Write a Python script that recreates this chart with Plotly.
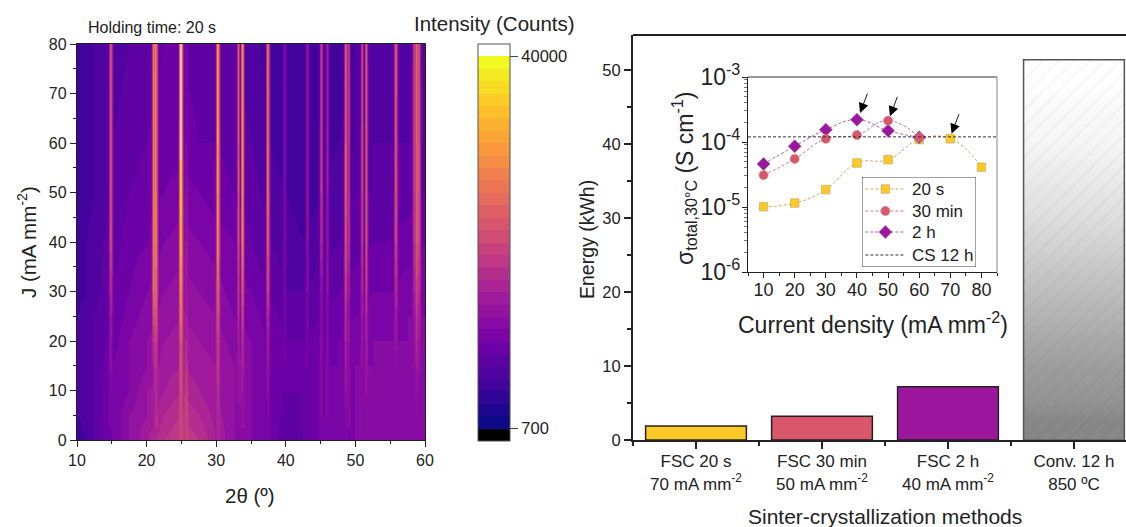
import plotly.graph_objects as go
from plotly.colors import sample_colorscale

W, H = 1126, 527
FONT = "Liberation Sans"
INK = "#222222"

# ---------- heatmap data, in colour-band units (0 = 700 counts, 30 = 40000 counts)
bg_two_theta = [10, 12.5, 15, 17.5, 20, 22.5, 25, 27.5, 30, 32.5, 35, 37.5, 40, 42.5, 45, 47.5, 50, 52.5, 55, 57.5, 60]
j_rows = [0, 5, 10, 15, 20, 25, 30, 40, 50, 60, 80]
bg_levels = [
    [3, 5, 7, 9, 11, 13, 14, 13, 11, 9, 8, 7, 5, 6, 7, 7, 8, 8, 8, 8, 8],
    [4, 5, 7, 9, 10, 12, 13, 12, 10.5, 9, 8, 7, 5.5, 6, 7, 7, 8, 8, 8, 8, 8],
    [4, 5, 7, 8, 10, 11, 12, 11, 10, 9, 8, 7, 6, 6, 7, 7, 8, 8, 8, 8, 8],
    [4, 5, 7, 8, 9, 10.5, 11, 10.5, 10, 9, 8, 7, 6, 6, 7, 7, 8, 8, 8, 8, 8],
    [4, 5, 6.5, 8, 9, 10, 10.5, 10, 9.5, 8.5, 8, 7, 6, 6, 6.5, 7, 7.5, 8, 8, 8, 8],
    [4, 5, 6, 7.5, 8.5, 9.5, 10, 9.5, 9, 8, 7.5, 6.5, 5.5, 5.5, 6, 6.5, 7, 7.5, 7.5, 8, 8],
    [3.5, 4.5, 6, 7, 8, 9, 9.5, 9, 8.5, 7.5, 7, 6, 5, 5, 5.5, 6, 6.5, 7, 7, 7.5, 7.5],
    [3.5, 4.5, 5.5, 6.5, 7, 8, 8.5, 8, 7.5, 7, 6, 5, 4.5, 4, 4.5, 5, 5.5, 6, 6, 6.5, 7],
    [3, 4, 5, 6, 6.5, 7, 7.5, 7, 6.5, 6, 5.5, 4.5, 4, 3.5, 4, 4.5, 5, 5, 5.5, 5.5, 6],
    [3, 4, 5, 5.5, 6, 6.5, 6.5, 6, 6, 5.5, 5, 4, 3.5, 3.5, 3.5, 4, 4.5, 5, 5, 5, 5.5],
    [3, 4, 4.5, 5, 5.5, 6, 6, 5.5, 5, 5, 4.5, 3.5, 3.5, 3, 3, 3.5, 4, 4.5, 4.5, 4.5, 5],
]
peak_two_theta = [14.85, 20.97, 21.3, 24.9, 25.65, 30.2, 33.2, 33.7, 37.4, 39.8, 43.05,
                  45.05, 45.9, 48.55, 49.0, 50.95, 51.5, 55.8, 58.4, 58.75, 59.1]
peak_levels = [
    [7, 7, 8, 9, 10, 11, 13, 17, 18, 18, 18],
    [0, 10, 11, 12, 14, 17, 20, 22, 22, 22, 22],
    [11, 12, 12, 13, 15, 18, 20, 22, 22, 22, 22],
    [15, 15, 16, 17, 18, 21, 23, 27, 29, 30.5, 30.5],
    [14, 15, 14, 13, 12, 11, 10, 10, 9, 8, 7],
    [11, 12, 13, 14, 15, 17, 19, 23, 24, 25, 25],
    [8, 9, 9, 10, 11, 13, 14, 17, 18, 19, 19],
    [8, 9, 10, 11, 12, 14, 16, 20, 21, 21, 21],
    [7, 8, 9, 10, 11, 13, 16, 19, 21, 21, 21],
    [5, 6, 6, 7, 7, 8, 8, 8, 9, 9, 9],
    [6, 6, 6, 7, 7, 7, 8, 9, 9, 9, 10],
    [7, 8, 8, 8, 8, 8, 9, 12, 13, 13, 13],
    [7, 8, 8, 8, 8, 8, 9, 9, 10, 10, 10],
    [8, 8, 10, 11, 12, 13, 15, 18, 19, 19, 19],
    [8, 8, 9, 9, 10, 10, 11, 14, 14, 15, 15],
    [8, 8, 8, 9, 9, 10, 11, 13, 14, 14, 14],
    [8, 8, 10, 11, 12, 13, 15, 18, 19, 19, 19],
    [8, 8, 8, 9, 10, 11, 13, 16, 18, 18, 19],
    [8, 8, 8, 9, 9, 10, 11, 13, 14, 14, 14],
    [8, 9, 10, 11, 13, 14, 16, 19, 19, 20, 20],
    [8, 8, 9, 10, 11, 12, 14, 17, 18, 18, 18],
]
bar_tick_labels = ["FSC 20 s<br>70 mA mm<sup>-2</sup>", "FSC 30 min<br>50 mA mm<sup>-2</sup>",
                   "FSC 2 h<br>40 mA mm<sup>-2</sup>", "Conv. 12 h<br>850 ºC"]
bar_energy = [1.9, 3.2, 7.2, 51.4]
bar_colors = ["#fdc926", "#d8576b", "#9c179e", "rgba(0,0,0,0)"]
grad_edges = [0, 5, 15, 25, 35, 45, 51.4]
grad_gray = [135, 158, 190, 222, 245, 255]

j_inset = [10, 20, 30, 40, 50, 60, 70, 80]
sigma_20s = [1.01e-5, 1.15e-5, 1.85e-5, 4.75e-5, 5.35e-5, 1.09e-4, 1.12e-4, 4.1e-5]
j_30min = [10, 20, 30, 40, 50, 60]
sigma_30min = [3.1e-5, 5.5e-5, 1.12e-4, 1.28e-4, 2.13e-4, 1.18e-4]
j_2h = [10, 20, 30, 40, 50, 60]
sigma_2h = [4.6e-5, 8.6e-5, 1.55e-4, 2.2e-4, 1.49e-4, 1.18e-4]
sigma_cs = [1.2e-4, 1.2e-4]
cs_range = [5, 85]
arrow_j = [41, 50.6, 70.4]
arrow_log_sigma = [-3.554, -3.605, -3.872]
legend_names = ["20 s", "30 min", "2 h", "CS 12 h"]


def nearest_bg(row, x):
    i = min(range(len(bg_two_theta)), key=lambda k: abs(bg_two_theta[k] - x))
    return bg_levels[row][i]


# Peak layer: narrow columns over the background grid, blank where a peak does not stand out.
CORE, SIDE, HALO, GAP = 0.05, 0.14, 0.32, 0.02
n_rows = len(j_rows)
columns = {}  # x -> per-row levels (None = blank)
for k, p in enumerate(peak_two_theta):
    lv = peak_levels[k]
    bg = [nearest_bg(r, p) for r in range(n_rows)]
    up = [lv[r] > bg[r] for r in range(n_rows)]
    core = []
    for r in range(n_rows):
        near = up[r] or (r > 0 and up[r - 1]) or (r < n_rows - 1 and up[r + 1])
        core.append(max(lv[r], bg[r]) if near else None)
    side = [None if c is None else 0.6 * c + 0.4 * bg[r] for r, c in enumerate(core)]
    halo = [None if c is None else 0.15 * c + 0.85 * bg[r] for r, c in enumerate(core)]
    for off, vals in ((CORE, core), (SIDE, side)):
        columns[round(p - off, 3)] = vals
        columns[round(p + off, 3)] = vals
    for sgn in (-1, 1):
        if not any(0 < sgn * (q - p) < HALO + SIDE for q in peak_two_theta):
            columns[round(p + sgn * HALO, 3)] = halo
            columns[round(p + sgn * (HALO + GAP), 3)] = [None] * n_rows
col_x = sorted(columns)
peak_z = [[columns[x][r] for x in col_x] for r in range(n_rows)]

bands = sample_colorscale("Plasma", [i / 29 for i in range(30)])
N = 32
cs = [[0, "#000000"], [1 / N, "#000000"]]
for i, c in enumerate(bands):
    cs += [[(i + 1) / N, c], [(i + 2) / N, c]]
cs += [[31 / N, "#ffffff"], [1, "#ffffff"]]

fig = go.Figure()
fig.add_trace(go.Heatmap(
    x=bg_two_theta, y=j_rows, z=bg_levels, zmin=-1, zmax=31, zsmooth="best", colorscale=cs, xaxis="x", yaxis="y",
    hoverinfo="skip",
    colorbar=dict(x=478 / W, xanchor="left", xpad=0, ypad=0, thickness=32, thicknessmode="pixels",
                  len=397 / H, lenmode="fraction", y=1 - 441 / H, yanchor="bottom",
                  tickvals=[0, 30], ticktext=["700", "40000"], ticks="outside", ticklen=8, tickcolor="#444",
                  tickfont=dict(size=16.5, family=FONT, color=INK), outlinewidth=1, outlinecolor="#555"),
))
fig.add_trace(go.Heatmap(
    x=col_x, y=j_rows, z=peak_z, zmin=-1, zmax=31, zsmooth="best", colorscale=cs, showscale=False,
    xaxis="x", yaxis="y", hoverinfo="skip",
))
fig.add_trace(go.Heatmap(
    x=[2.6, 3.0, 3.4], y=grad_edges, z=[[g, g] for g in grad_gray], zmin=0, zmax=255, zsmooth="best",
    colorscale=[[0, "#000000"], [1, "#ffffff"]], showscale=False, xaxis="x2", yaxis="y2", hoverinfo="skip",
))
fig.add_trace(go.Bar(
    x=[0, 1, 2, 3], y=bar_energy, width=0.8, xaxis="x2", yaxis="y2", showlegend=False,
    marker=dict(color=bar_colors, line=dict(color=["#222", "#222", "#222", "#555"], width=1.5),
                pattern=dict(shape=["", "", "", "/"], size=11, solidity=0.01, fgcolor="#666666", fgopacity=1,
                             bgcolor="rgba(0,0,0,0)", fillmode="overlay")),
))

series = [
    ("20 s", j_inset, sigma_20s, "#fdc926", "square", 8.5, "#c9ad66"),
    ("2 h", j_2h, sigma_2h, "#9c179e", "diamond", 10, "#a565a8"),
    ("30 min", j_30min, sigma_30min, "#d8576b", "circle", 9, "#c47a8a"),
]
for name, xs, ys, col, sym, size, lcol in series:
    fig.add_trace(go.Scatter(
        x=xs, y=ys, name=name, mode="lines+markers", xaxis="x3", yaxis="y3", showlegend=False,
        line=dict(color=lcol, width=1, dash="3px,2px", shape="spline", smoothing=1.3),
        marker=dict(color=col, symbol=sym, size=size, line=dict(color=lcol, width=0.7)),
    ))
fig.add_trace(go.Scatter(
    x=cs_range, y=sigma_cs, name="CS 12 h", mode="lines", xaxis="x3", yaxis="y3", showlegend=False,
    line=dict(color="#333", width=1, dash="3px,2px"),
))

# Legend box drawn on its own hidden axes, so that it can be as tight as the reference's
LEG_H = 90.0
row_frac = [1 - 12 / LEG_H, 1 - 34 / LEG_H, 1 - 55 / LEG_H, 1 - 78 / LEG_H]
fig.add_trace(go.Scatter(x=[0, 1, 1, 0, 0], y=[0, 0, 1, 1, 0], mode="lines", fill="toself", fillcolor="white",
                         line=dict(color="#444", width=1), xaxis="x4", yaxis="y4", showlegend=False,
                         hoverinfo="skip"))
leg_style = [("#c9ad66", "#fdc926", "square", 8.5), ("#c47a8a", "#d8576b", "circle", 9),
             ("#a565a8", "#9c179e", "diamond", 10), ("#333", None, None, 0)]
for yy, (lcol, col, sym, size) in zip(row_frac, leg_style):
    fig.add_trace(go.Scatter(x=[0.03, 0.38], y=[yy, yy], mode="lines", line=dict(color=lcol, width=1, dash="3px,2px"),
                             xaxis="x4", yaxis="y4", showlegend=False, hoverinfo="skip"))
    if sym:
        fig.add_trace(go.Scatter(x=[0.205], y=[yy], mode="markers", xaxis="x4", yaxis="y4", showlegend=False,
                                 marker=dict(color=col, symbol=sym, size=size, line=dict(color=lcol, width=0.7)),
                                 hoverinfo="skip"))

tick = dict(family=FONT, color=INK)
common = dict(showgrid=False, zeroline=False, showline=True, linecolor=INK, ticks="outside", tickcolor=INK,
              automargin=False, title_standoff=0)
hidden = dict(visible=False, range=[0, 1], fixedrange=True)

layout = dict(
    width=W, height=H, autosize=False, margin=dict(l=0, r=0, t=0, b=0), showlegend=False,
    paper_bgcolor="white", plot_bgcolor="rgba(0,0,0,0)", font=dict(family=FONT, color=INK), barmode="overlay",
    xaxis=dict(**common, domain=[77 / W, 425 / W], anchor="y", range=[10, 60], tick0=10, dtick=10, ticklen=6,
               linewidth=1.3, mirror=True, tickfont=dict(size=16, **tick),
               minor=dict(ticks="outside", dtick=5, ticklen=3, tickcolor=INK)),
    yaxis=dict(**common, domain=[1 - 440 / H, 1 - 44 / H], anchor="x", range=[0, 80], tick0=0, dtick=10, ticklen=6,
               linewidth=1.3, mirror=True, tickfont=dict(size=16, **tick),
               minor=dict(ticks="outside", dtick=5, ticklen=3, tickcolor=INK)),
    xaxis2=dict(**common, domain=[633 / W, 1], anchor="y2", range=[-0.5, 3.413], tickvals=[0, 1, 2, 3],
                ticktext=bar_tick_labels, ticklen=7, linewidth=2, tickwidth=2, tickfont=dict(size=17, **tick),
                ticklabelstandoff=-2,
                minor=dict(ticks="outside", tickmode="array", tickvals=[-0.5, 0.5, 1.5, 2.5], ticklen=4,
                           tickwidth=2, tickcolor=INK)),
    yaxis2=dict(**common, domain=[1 - 440 / H, 1 - 35 / H], anchor="x2", range=[0, 54.73], tick0=0, dtick=10, ticklen=7,
                linewidth=2, tickwidth=2, tickfont=dict(size=16.5, **tick),
                minor=dict(ticks="outside", dtick=5, ticklen=4, tickwidth=2, tickcolor=INK)),
    xaxis3=dict(**common, domain=[748 / W, 997 / W], anchor="y3", range=[5, 85], tick0=10, dtick=10, ticklen=5,
                linewidth=1.2, tickfont=dict(size=18, **tick), ticklabelstandoff=-4,
                minor=dict(ticks="outside", dtick=5, ticklen=3, tickcolor=INK)),
    yaxis3=dict(**common, domain=[1 - 272 / H, 1 - 77 / H], anchor="x3", type="log", range=[-6, -3],
                tickvals=[1e-6, 1e-5, 1e-4, 1e-3],
                ticktext=["10<sup>-6</sup>", "10<sup>-5</sup>", "10<sup>-4</sup>", "10<sup>-3</sup>"],
                ticklen=5, linewidth=1.2, tickfont=dict(size=23, **tick), ticklabelstandoff=-3,
                minor=dict(ticks="outside", dtick="D1", ticklen=3, tickcolor="#777")),
    xaxis4=dict(**hidden, domain=[862 / W, 976 / W], anchor="y4"),
    yaxis4=dict(**hidden, domain=[1 - 267 / H, 1 - 177 / H], anchor="x4"),
    shapes=[
        dict(type="line", xref="x2 domain", yref="y2 domain", x0=0, x1=1, y0=1, y1=1, line=dict(color=INK, width=2)),
        dict(type="line", xref="x3 domain", yref="y3 domain", x0=0, x1=1, y0=1, y1=1, line=dict(color="#999", width=2)),
        dict(type="line", xref="x3 domain", yref="y3 domain", x0=1, x1=1, y0=0, y1=1, line=dict(color="#888", width=1)),
    ],
)
fig.update_layout(**layout)


def label(text, px, py, size, angle=0):
    fig.add_annotation(text=text, x=px / W, y=1 - py / H, xref="paper", yref="paper", showarrow=False,
                       xanchor="center", yanchor="middle", textangle=angle, font=dict(size=size, family=FONT, color=INK))


label("Holding time: 20 s", 152, 28, 16)
label("Intensity (Counts)", 494, 23, 20.5)
label("2θ (º)", 250, 495, 20.5)
label("J (mA mm<sup>-2</sup>)", 27, 242, 20.5, -90)
label("Energy (kWh)", 587, 240, 19.5, -90)
label("Sinter-crystallization methods", 885, 516, 21)
label("Current density (mA mm<sup>-2</sup>)", 873, 323, 23)
label("σ<sub>total,30°C</sub> (S cm<sup>-1</sup>)", 684, 178, 23, -90)

for yy, name in zip(row_frac, legend_names):
    fig.add_annotation(text=name, x=0.42, y=yy, xref="x4", yref="y4", showarrow=False, xanchor="left",
                       yanchor="middle", font=dict(size=17, family=FONT, color=INK))

for ax_j, ax_s in zip(arrow_j, arrow_log_sigma):
    fig.add_annotation(x=ax_j, y=ax_s, xref="x3", yref="y3", ax=8, ay=-21, axref="pixel", ayref="pixel",
                       showarrow=True, arrowhead=2, arrowsize=2.2, arrowwidth=0.9, arrowcolor="#000", text="")

fig.write_html("out.html", config={"displayModeBar": False},
               post_script="document.body.style.margin='0';document.documentElement.style.overflow='hidden';")
